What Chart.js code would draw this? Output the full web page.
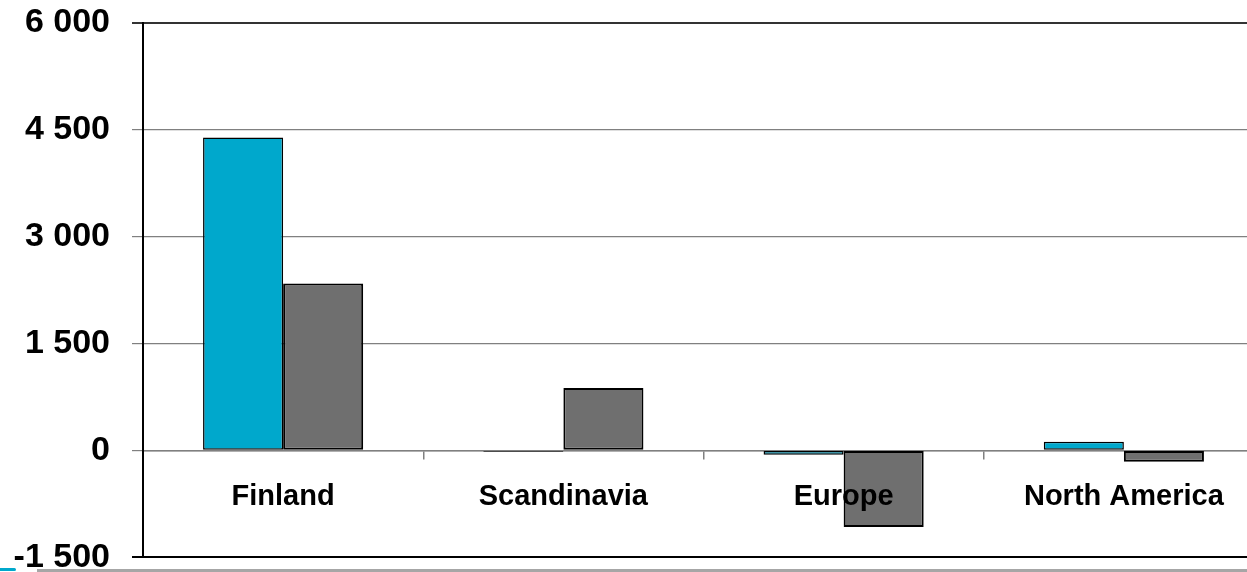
<!DOCTYPE html>
<html>
<head>
<meta charset="utf-8">
<script src="https://cdn.jsdelivr.net/npm/chart.js@4/dist/chart.umd.min.js"></script>
<style>
  html, body { margin: 0; padding: 0; background: #fff; overflow: hidden; width: 1247px; height: 572px; }
  #wrap { position: absolute; left: 0; top: 0; width: 1264px; height: 572px; }
  #footLine { position: absolute; left: 37px; top: 569px; width: 1210px; height: 3px; background: #a6a6a6; }
  #footMark { position: absolute; left: 0; top: 568px; width: 16px; height: 3px; background: #00a8cc; border-radius: 0 2px 2px 0; }
</style>
</head>
<body>
<div id="wrap"><canvas id="chart"></canvas></div>
<div id="footLine"></div>
<div id="footMark"></div>
<script>
// Regions along the category axis
const regions = ['Finland', 'Scandinavia', 'Europe', 'North America'];
// Two series per region
const seriesA = [4390, -20, -60, 122];
const seriesB = [2340, 876, -1075, -159];
// Value axis ticks
const yTicks = [-1500, 0, 1500, 3000, 4500, 6000];

const fontFamily = 'Arial, "Liberation Sans", sans-serif';

function spaced(v) {
  const sign = v < 0 ? '-' : '';
  return sign + String(Math.abs(v)).replace(/\B(?=(\d{3})+(?!\d))/g, ' ');
}

new Chart(document.getElementById('chart'), {
  type: 'bar',
  data: {
    labels: regions,
    datasets: [
      {
        data: seriesA,
        backgroundColor: '#00a8cc',
        borderColor: '#000',
        borderWidth: 1.5,
        borderSkipped: false,
        categoryPercentage: 0.5714,
        barPercentage: 1
      },
      {
        data: seriesB,
        backgroundColor: '#6f6f6f',
        borderColor: '#000',
        borderWidth: 2,
        borderSkipped: false,
        categoryPercentage: 0.5714,
        barPercentage: 1
      }
    ]
  },
  options: {
    responsive: true,
    maintainAspectRatio: false,
    animation: false,
    layout: { padding: { top: 22.7, bottom: 14.7, left: 0, right: 0 } },
    plugins: { legend: { display: false }, tooltip: { enabled: false } },
    scales: {
      x: {
        position: { y: 0 },
        grid: { display: true, drawOnChartArea: false, drawTicks: true, tickLength: 8, color: '#808080', lineWidth: 1.5 },
        border: { display: true, color: '#808080', width: 1.5 },
        ticks: { z: 1, color: '#000', font: { family: fontFamily, size: 29, weight: 'bold' }, padding: 21, maxRotation: 0 },
        afterFit: (s) => { s.paddingLeft = 0; s.paddingRight = 0; }
      },
      y: {
        min: -1500,
        max: 6000,
        afterBuildTicks: (s) => { s.ticks = yTicks.map(v => ({ value: v })); },
        afterFit: (s) => { s.width = 143; s.paddingTop = 0; s.paddingBottom = 0; },
        grid: {
          color: (c) => (c.tick && c.tick.value === -1500) ? '#000' : (c.tick && c.tick.value === 6000 ? '#333' : '#808080'),
          lineWidth: (c) => (c.tick && (c.tick.value === -1500 || c.tick.value === 6000)) ? 2 : 1.2,
          tickLength: 11
        },
        border: { display: true, color: '#000', width: 2 },
        ticks: {
          color: '#000',
          padding: 22,
          font: { family: fontFamily, size: 34, weight: 'bold' },
          callback: (v) => spaced(v)
        }
      }
    }
  }
});
</script>
</body>
</html>
